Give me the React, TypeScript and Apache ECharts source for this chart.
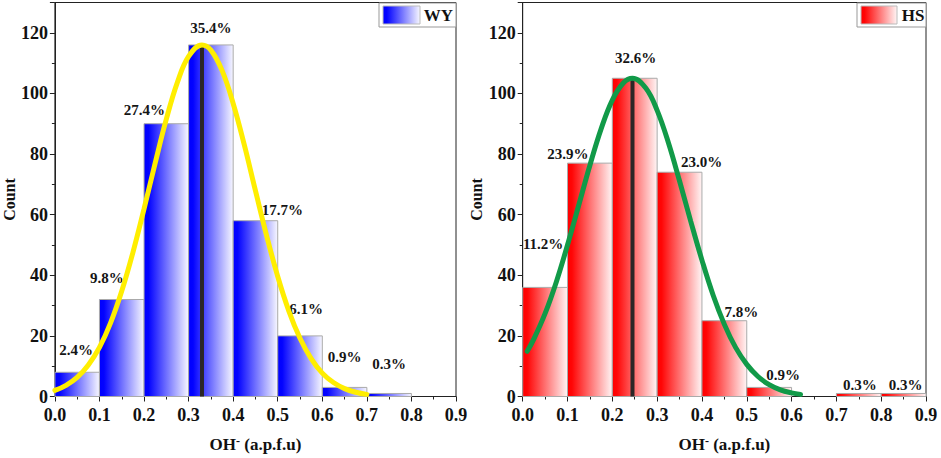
import React, { useEffect, useRef } from "react";
import * as echarts from "echarts";

// ---------- data ----------
const X_EDGES = [0, 0.1, 0.2, 0.3, 0.4, 0.5, 0.6, 0.7, 0.8, 0.9];
const X_TICKS = [0, 0.1, 0.2, 0.3, 0.4, 0.5, 0.6, 0.7, 0.8, 0.9];
const Y_TICKS = [0, 20, 40, 60, 80, 100, 120];

const WY_COUNTS = [8, 32, 90, 116, 58, 20, 3, 1, 0];
const HS_COUNTS = [36, 77, 105, 74, 25, 3, 0, 1, 1];
const WY_PCT = ["2.4%", "9.8%", "27.4%", "35.4%", "17.7%", "6.1%", "0.9%", "0.3%", ""];
const HS_PCT = ["11.2%", "23.9%", "32.6%", "23.0%", "7.8%", "0.9%", "", "0.3%", "0.3%"];

const WY_CURVE_X = [0, 0.025, 0.05, 0.075, 0.1, 0.125, 0.15, 0.175, 0.2, 0.225, 0.25, 0.275, 0.3, 0.33, 0.35, 0.375, 0.4, 0.425, 0.45, 0.475, 0.5, 0.525, 0.55, 0.575, 0.6, 0.625, 0.65, 0.675, 0.7];
const WY_CURVE_Y = [2.0, 3.7, 6.3, 10.4, 16.2, 24.3, 34.8, 47.5, 61.9, 77.0, 91.5, 103.7, 112.2, 116, 114.3, 107.6, 96.7, 83.0, 67.9, 53.1, 39.6, 28.2, 19.2, 12.5, 7.7, 4.6, 2.6, 1.4, 0.7];
const HS_CURVE_X = [0.01, 0.025, 0.05, 0.075, 0.1, 0.125, 0.15, 0.175, 0.2, 0.225, 0.245, 0.275, 0.3, 0.325, 0.35, 0.375, 0.4, 0.425, 0.45, 0.475, 0.5, 0.525, 0.55, 0.575, 0.6, 0.62];
const HS_CURVE_Y = [14.9, 19.0, 27.4, 37.8, 50.0, 63.1, 76.3, 88.3, 97.8, 103.5, 105, 101.7, 94.4, 83.8, 71.1, 57.8, 45.0, 33.4, 23.8, 16.2, 10.6, 6.6, 3.9, 2.2, 1.2, 0.7];

const WY_MEAN = 0.33;
const WY_PEAK = 116;
const HS_MEAN = 0.245;
const HS_PEAK = 105;

// ---------- styles / layout ----------
const FONT = '"Liberation Serif", "Times New Roman", serif';
const WY_LABEL_OFFSETS = [[-1, -22], [-15, -22], [-22, -14], [0, -17], [27, -11], [6, -27], [0, -30], [0, -29], [0, 0]];
const HS_LABEL_OFFSETS = [[-2, -43], [-22, -9], [1, -20], [22, -10], [17, -9], [14, -12], [0, 0], [1, -8], [2, -8]];

const blueGrad = () =>
  new echarts.graphic.LinearGradient(0, 0, 1, 0, [
    { offset: 0, color: "#0000ff" },
    { offset: 0.1, color: "#0303ff" },
    { offset: 1, color: "#f7f7ff" },
  ]);
const redGrad = () =>
  new echarts.graphic.LinearGradient(0, 0, 1, 0, [
    { offset: 0, color: "#ff0000" },
    { offset: 0.1, color: "#ff0606" },
    { offset: 1, color: "#fff5f5" },
  ]);

function binData(counts: number[]) {
  return counts.map((c, i) => [X_EDGES[i], X_EDGES[i + 1], c, i]);
}

function makeRenderItem(labels: string[], offsets: number[][], grad: () => any) {
  return (params: any, api: any) => {
    const x0 = api.value(0);
    const x1 = api.value(1);
    const c = api.value(2);
    const idx = api.value(3);
    if (!c) return { type: "group", children: [] };
    const p0 = api.coord([x0, c]);
    const p1 = api.coord([x1, 0]);
    const off = offsets[idx] || [0, -15];
    return {
      type: "group",
      children: [
        {
          type: "rect",
          shape: { x: p0[0], y: p0[1], width: p1[0] - p0[0], height: p1[1] - p0[1] },
          style: { fill: grad(), stroke: "#aaaaaa", lineWidth: 1 },
        },
        {
          type: "text",
          z2: 50,
          style: {
            text: labels[idx],
            x: (p0[0] + p1[0]) / 2 + off[0],
            y: p0[1] + off[1],
            align: "center",
            verticalAlign: "middle",
            fontFamily: FONT,
            fontWeight: "bold",
            fontSize: 15,
            fill: "#151515",
          },
        },
      ],
    };
  };
}

function xAxis(gridIndex: number) {
  return {
    type: "value",
    gridIndex,
    min: X_TICKS[0],
    max: X_TICKS[X_TICKS.length - 1],
    interval: 0.1,
    name: "OH{sup|-} (a.p.f.u)",
    nameLocation: "middle",
    nameGap: 38,
    nameTextStyle: {
      fontFamily: FONT,
      fontWeight: "bold",
      fontSize: 17,
      color: "#111",
      rich: {
        sup: { fontFamily: FONT, fontWeight: "bold", fontSize: 12, verticalAlign: "top", color: "#111", padding: [0, 0, 8, 0] },
      },
    },
    axisLine: { show: true, lineStyle: { color: "#222", width: 1 } },
    axisTick: { show: true, inside: false, length: 5, lineStyle: { color: "#222" } },
    minorTick: { show: true, splitNumber: 2, length: 3, lineStyle: { color: "#222" } },
    splitLine: { show: false },
    axisLabel: {
      margin: 11,
      fontFamily: FONT,
      fontWeight: "bold",
      fontSize: 18,
      lineHeight: 14,
      color: "#111",
      formatter: (v: number) => v.toFixed(1),
    },
  };
}

function yAxis(gridIndex: number, nameGap: number) {
  return {
    type: "value",
    gridIndex,
    min: 0,
    max: 130,
    interval: 20,
    name: "Count",
    nameLocation: "middle",
    nameGap,
    nameTextStyle: { fontFamily: FONT, fontWeight: "bold", fontSize: 16, color: "#111" },
    axisLine: { show: true, lineStyle: { color: "#222", width: 1 } },
    axisTick: { show: true, inside: false, length: 5, lineStyle: { color: "#222" } },
    minorTick: { show: true, splitNumber: 2, length: 3, lineStyle: { color: "#222" } },
    splitLine: { show: false },
    axisLabel: {
      margin: 7,
      fontFamily: FONT,
      fontWeight: "bold",
      fontSize: 18,
      lineHeight: 13,
      color: "#111",
      formatter: (v: number) => (Y_TICKS.includes(v) ? String(v) : ""),
    },
  };
}

function legendGraphic(boxX: number, boxW: number, swX: number, swW: number, textX: number, text: string, grad: () => any) {
  return {
    type: "group",
    children: [
      { type: "rect", shape: { x: boxX, y: 3, width: boxW, height: 24 }, style: { fill: "#fff", stroke: "#999", lineWidth: 1 }, z: 10 },
      { type: "rect", shape: { x: swX, y: 6, width: swW, height: 18 }, style: { fill: grad(), stroke: "#bbb", lineWidth: 1 }, z: 11 },
      {
        type: "text",
        x: textX,
        y: 15.5,
        z: 11,
        style: { text, align: "center", verticalAlign: "middle", fontFamily: FONT, fontWeight: "bold", fontSize: 17, fill: "#111" },
      },
    ],
  };
}

export default function App() {
  const ref = useRef<HTMLDivElement>(null);
  useEffect(() => {
    if (!ref.current) return;
    const chart = echarts.init(ref.current, undefined, { renderer: "svg" });
    const option: any = {
      animation: false,
      backgroundColor: "#fff",
      grid: [
        { left: 51, right: 485, top: 2.5, bottom: 61, show: true, borderColor: "#222", borderWidth: 1, backgroundColor: "transparent" },
        { left: 522.7, right: 15, top: 2.5, bottom: 61, show: true, borderColor: "#222", borderWidth: 1, backgroundColor: "transparent" },
      ],
      xAxis: [xAxis(0), xAxis(1)],
      yAxis: [yAxis(0, 34), yAxis(1, 36)],
      series: [
        {
          type: "custom",
          xAxisIndex: 0,
          yAxisIndex: 0,
          z: 2,
          renderItem: makeRenderItem(WY_PCT, WY_LABEL_OFFSETS, blueGrad),
          data: binData(WY_COUNTS),
          encode: { x: [0, 1], y: 2 },
        },
        {
          type: "custom",
          xAxisIndex: 1,
          yAxisIndex: 1,
          z: 2,
          renderItem: makeRenderItem(HS_PCT, HS_LABEL_OFFSETS, redGrad),
          data: binData(HS_COUNTS),
          encode: { x: [0, 1], y: 2 },
        },
        {
          type: "line",
          xAxisIndex: 0,
          yAxisIndex: 0,
          z: 5,
          showSymbol: false,
          data: [[WY_MEAN, 0], [WY_MEAN, WY_PEAK]],
          lineStyle: { color: "#2b2626", width: 4 },
        },
        {
          type: "line",
          xAxisIndex: 1,
          yAxisIndex: 1,
          z: 5,
          showSymbol: false,
          data: [[HS_MEAN, 0], [HS_MEAN, HS_PEAK]],
          lineStyle: { color: "#2b2626", width: 4 },
        },
        {
          type: "line",
          xAxisIndex: 0,
          yAxisIndex: 0,
          z: 6,
          smooth: 0.4,
          showSymbol: false,
          data: WY_CURVE_X.map((x, i) => [x, WY_CURVE_Y[i]]),
          lineStyle: { color: "#ffee00", width: 5, cap: "round" },
        },
        {
          type: "line",
          xAxisIndex: 1,
          yAxisIndex: 1,
          z: 6,
          smooth: 0.4,
          showSymbol: false,
          data: HS_CURVE_X.map((x, i) => [x, HS_CURVE_Y[i]]),
          lineStyle: { color: "#119a48", width: 5, cap: "round" },
        },
      ],
      graphic: [
        legendGraphic(379, 77, 383, 37, 438.5, "WY", blueGrad),
        legendGraphic(857, 69, 861, 36, 913, "HS", redGrad),
      ],
    };
    chart.setOption(option);
    return () => chart.dispose();
  }, []);
  return <div ref={ref} style={{ position: "fixed", left: 0, top: 0, width: 941, height: 458, background: "#fff" }} />;
}
